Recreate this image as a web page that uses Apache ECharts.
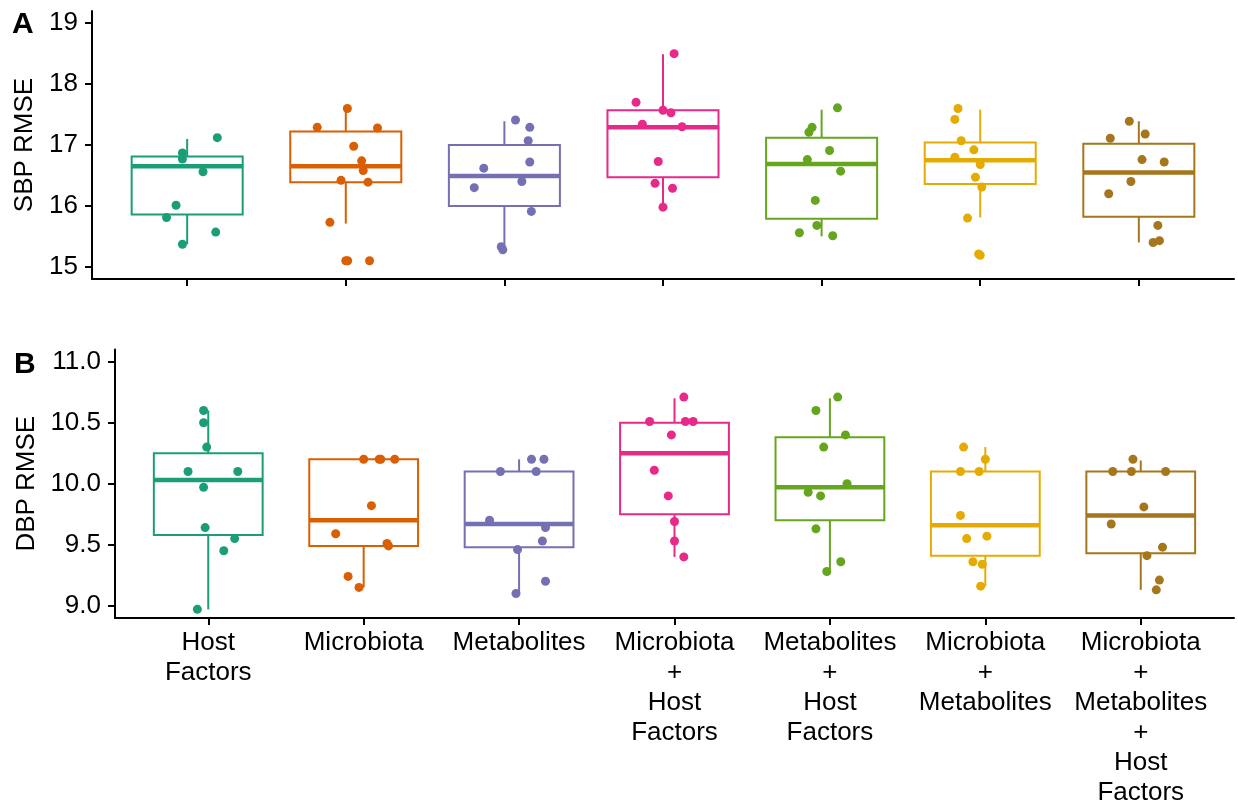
<!DOCTYPE html>
<html>
<head>
<meta charset="utf-8">
<script src="https://cdn.jsdelivr.net/npm/echarts@6/dist/echarts.min.js"></script>
<style>
html,body{margin:0;padding:0;background:#fff;}
#chart{width:1238px;height:807px;}
</style>
</head>
<body>
<div id="chart"></div>
<script>
// ---------- DATA ----------
const categories = [
  'Host\nFactors',
  'Microbiota',
  'Metabolites',
  'Microbiota\n+\nHost\nFactors',
  'Metabolites\n+\nHost\nFactors',
  'Microbiota\n+\nMetabolites',
  'Microbiota\n+\nMetabolites\n+\nHost\nFactors'
];
const colors = ['#1B9E77', '#D95F02', '#7570B3', '#E7298A', '#66A61E', '#E6AB02', '#A6761D'];

// box stats: [lower whisker, Q1, median, Q3, upper whisker]
const sbpStats = [
  [15.37, 15.86, 16.65, 16.81, 17.10],
  [15.71, 16.39, 16.65, 17.22, 17.60],
  [15.30, 16.00, 16.49, 17.00, 17.39],
  [15.98, 16.47, 17.29, 17.57, 18.49],
  [15.50, 15.79, 16.69, 17.12, 17.58],
  [15.81, 16.36, 16.75, 17.04, 17.58],
  [15.40, 15.82, 16.55, 17.02, 17.39]
];
const dbpStats = [
  [8.97, 9.58, 10.03, 10.25, 10.60],
  [9.15, 9.49, 9.70, 10.20, 10.20],
  [9.10, 9.48, 9.67, 10.10, 10.20],
  [9.40, 9.75, 10.25, 10.50, 10.70],
  [9.28, 9.70, 9.97, 10.38, 10.70],
  [9.16, 9.41, 9.66, 10.10, 10.30],
  [9.13, 9.43, 9.74, 10.10, 10.19]
];

// jittered points per category: [horizontal jitter (category units), value]
const sbpPoints = [
  [[0.19,17.12],[-0.03,16.87],[-0.03,16.77],[0.10,16.56],[-0.07,16.01],[-0.13,15.81],[0.18,15.57],[-0.03,15.37]],
  [[-0.18,17.29],[0.20,17.28],[0.01,17.60],[0.05,16.98],[0.10,16.74],[0.11,16.58],[-0.03,16.42],[0.14,16.39],[-0.10,15.73],[0.00,15.10],[0.012,15.10],[0.15,15.10]],
  [[0.07,17.41],[0.16,17.29],[0.15,17.07],[0.16,16.72],[-0.13,16.62],[0.11,16.40],[-0.19,16.30],[0.17,15.91],[-0.02,15.33],[-0.01,15.28]],
  [[0.07,18.50],[-0.17,17.70],[0.00,17.57],[0.05,17.53],[-0.13,17.34],[0.12,17.30],[-0.03,16.73],[-0.05,16.37],[0.06,16.29],[0.00,15.98]],
  [[-0.06,17.29],[-0.08,17.21],[-0.09,16.76],[-0.04,16.09],[-0.03,15.68],[-0.14,15.56],[0.10,17.61],[0.05,16.91],[0.12,16.57],[0.07,15.51]],
  [[-0.14,17.60],[-0.16,17.42],[-0.12,17.07],[-0.04,16.92],[-0.16,16.80],[0.00,16.68],[-0.03,16.47],[0.01,16.31],[-0.08,15.80],[-0.01,15.21],[0.00,15.19]],
  [[-0.06,17.39],[0.04,17.18],[-0.18,17.11],[0.02,16.76],[0.16,16.72],[-0.05,16.40],[-0.19,16.20],[0.12,15.68],[0.09,15.40],[0.13,15.43]]
];
const dbpPoints = [
  [[-0.03,10.60],[-0.03,10.50],[-0.01,10.30],[-0.13,10.10],[0.19,10.10],[-0.03,9.97],[-0.02,9.64],[0.17,9.55],[0.10,9.45],[-0.07,8.97]],
  [[0.00,10.20],[0.10,10.20],[0.11,10.20],[0.20,10.20],[0.05,9.82],[-0.18,9.59],[0.15,9.51],[0.16,9.49],[-0.10,9.24],[-0.03,9.15]],
  [[0.08,10.20],[0.16,10.20],[-0.12,10.10],[0.11,10.10],[-0.19,9.70],[0.17,9.64],[0.15,9.53],[-0.01,9.46],[0.17,9.20],[-0.02,9.10]],
  [[0.06,10.71],[-0.16,10.51],[0.07,10.51],[0.12,10.51],[-0.02,10.40],[-0.13,10.11],[-0.04,9.90],[0.00,9.69],[0.00,9.53],[0.06,9.40]],
  [[0.05,10.71],[-0.09,10.60],[0.10,10.40],[-0.04,10.30],[0.11,10.00],[-0.14,9.93],[-0.06,9.90],[-0.09,9.63],[0.07,9.36],[-0.02,9.28]],
  [[-0.14,10.30],[0.00,10.20],[-0.16,10.10],[-0.04,10.10],[-0.16,9.74],[0.01,9.57],[-0.12,9.55],[-0.08,9.36],[-0.02,9.34],[-0.03,9.16]],
  [[-0.05,10.20],[-0.18,10.10],[-0.06,10.10],[0.16,10.10],[0.02,9.81],[-0.19,9.67],[0.14,9.48],[0.04,9.41],[0.12,9.21],[0.10,9.13]]
];

const sbpTicks = [15, 16, 17, 18, 19];
const dbpTicks = [9.0, 9.5, 10.0, 10.5, 11.0];
const catPositions = [1, 2, 3, 4, 5, 6, 7];

// ---------- CHART ----------
const FONT = 'Liberation Sans, Arial, sans-serif';
const chart = echarts.init(document.getElementById('chart'), null, {renderer: 'canvas'});

const BOX_HALF = 0.35;

function boxRenderer(params, api) {
  const x = api.value(0);
  const low = api.value(1), q1 = api.value(2), med = api.value(3), q3 = api.value(4), high = api.value(5);
  const color = colors[params.dataIndex];
  const pLow = api.coord([x, low]);
  const pQ1 = api.coord([x, q1]);
  const pQ3 = api.coord([x, q3]);
  const pHigh = api.coord([x, high]);
  const lt = api.coord([x - BOX_HALF, q3]);
  const rb = api.coord([x + BOX_HALF, q1]);
  const mL = api.coord([x - BOX_HALF, med]);
  const mR = api.coord([x + BOX_HALF, med]);
  return {
    type: 'group',
    children: [
      {type: 'line', shape: {x1: pQ3[0], y1: pQ3[1], x2: pHigh[0], y2: pHigh[1]}, style: {stroke: color, lineWidth: 2}},
      {type: 'line', shape: {x1: pQ1[0], y1: pQ1[1], x2: pLow[0], y2: pLow[1]}, style: {stroke: color, lineWidth: 2}},
      {type: 'rect', shape: {x: lt[0], y: lt[1], width: rb[0] - lt[0], height: rb[1] - lt[1]}, style: {fill: '#fff', stroke: color, lineWidth: 2}},
      {type: 'line', shape: {x1: mL[0], y1: mL[1], x2: mR[0], y2: mR[1]}, style: {stroke: color, lineWidth: 4.5}}
    ]
  };
}

function xAxisCfg(gridIndex, showLabels) {
  return {
    type: 'value', gridIndex: gridIndex, min: 0.4, max: 7.6,
    axisLine: {show: true, onZero: false, lineStyle: {color: '#000', width: 2}},
    axisTick: {show: true, length: 7, lineStyle: {color: '#000', width: 2}, customValues: catPositions},
    axisLabel: {
      show: showLabels, customValues: catPositions, margin: 10,
      color: '#000', fontFamily: FONT, fontSize: 26, lineHeight: 30, align: 'center',
      formatter: function (v) { return categories[Math.round(v) - 1] || ''; }
    },
    splitLine: {show: false}
  };
}

function yAxisCfg(gridIndex, min, max, ticks, name, nameGap, digits) {
  return {
    type: 'value', gridIndex: gridIndex, min: min, max: max,
    name: name, nameLocation: 'middle', nameGap: nameGap,
    nameTextStyle: {color: '#000', fontFamily: FONT, fontSize: 26},
    axisLine: {show: true, onZero: false, lineStyle: {color: '#000', width: 2}},
    axisTick: {show: true, length: 7, lineStyle: {color: '#000', width: 2}, customValues: ticks},
    axisLabel: {
      customValues: ticks, margin: 14, color: '#000', fontFamily: FONT, fontSize: 26,
      formatter: function (v) { return v.toFixed(digits); }
    },
    splitLine: {show: false}
  };
}

const series = [];
[[sbpStats, sbpPoints], [dbpStats, dbpPoints]].forEach(function (pair, g) {
  const stats = pair[0], pts = pair[1];
  series.push({
    type: 'custom', xAxisIndex: g, yAxisIndex: g, z: 2,
    renderItem: boxRenderer,
    encode: {x: 0, y: [1, 2, 3, 4, 5]},
    data: stats.map(function (s, i) { return [catPositions[i]].concat(s); }),
    clip: false
  });
  pts.forEach(function (list, i) {
    series.push({
      type: 'scatter', xAxisIndex: g, yAxisIndex: g, z: 3,
      symbol: 'circle', symbolSize: 9,
      itemStyle: {color: colors[i], opacity: 1},
      data: list.map(function (p) { return [catPositions[i] + p[0], p[1]]; }),
      silent: true
    });
  });
});

chart.setOption({
  animation: false,
  backgroundColor: '#fff',
  title: [
    {text: 'A', left: 12, top: 10, padding: 0, textStyle: {fontFamily: FONT, fontWeight: 'bold', fontSize: 30, color: '#000'}},
    {text: 'B', left: 14, top: 350, padding: 0, textStyle: {fontFamily: FONT, fontWeight: 'bold', fontSize: 30, color: '#000'}}
  ],
  grid: [
    {left: 92, right: 4, top: 11, height: 268, outerBoundsMode: 'none', containLabel: false},
    {left: 115, right: 4, top: 349.5, height: 268.4, outerBoundsMode: 'none', containLabel: false}
  ],
  xAxis: [xAxisCfg(0, false), xAxisCfg(1, true)],
  yAxis: [
    yAxisCfg(0, 14.8, 19.2, sbpTicks, 'SBP RMSE', 52, 0),
    yAxisCfg(1, 8.9, 11.1, dbpTicks, 'DBP RMSE', 75, 1)
  ],
  series: series
});
</script>
</body>
</html>
